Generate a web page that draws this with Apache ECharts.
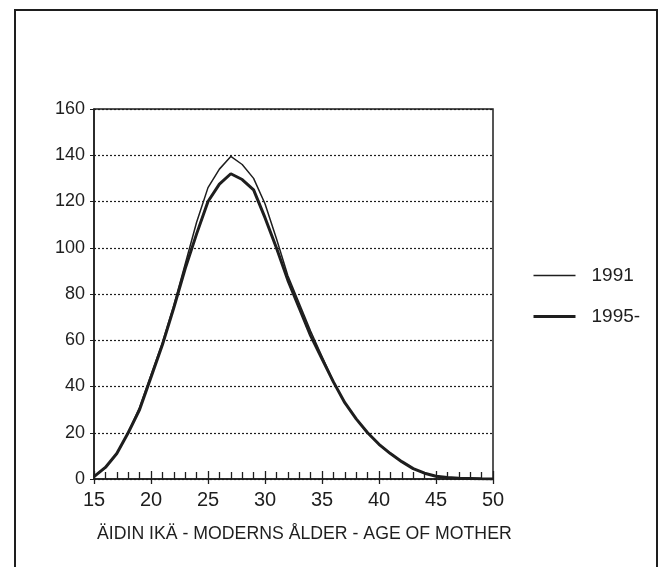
<!DOCTYPE html>
<html>
<head>
<meta charset="utf-8">
<script src="https://cdn.jsdelivr.net/npm/echarts@6/dist/echarts.min.js"></script>
<style>
html, body { margin: 0; padding: 0; background: #fff; }
#chart { width: 663px; height: 567px; }
</style>
</head>
<body>
<div id="chart"></div>
<script>
// ikä 15..50
var ages = [15,16,17,18,19,20,21,22,23,24,25,26,27,28,29,30,31,32,33,34,35,36,37,38,39,40,41,42,43,44,45,46,47,48,49,50];
var v1991 = [1,5,11,20,31,45,59,75,93,111,126,134,139.5,136,130,119,104,88,76,64,53,42,33,26,20,15,11,7.5,4.5,2.5,1.2,0.6,0.3,0.2,0.1,0.05];
var v1995 = [1,5,11,20,30,44,58,74,91,106,120,127.5,132,129.5,125,113,100,86,74,62,52,42,33,26,20,15,11,7.5,4.5,2.5,1.2,0.6,0.3,0.2,0.1,0.05];
var yTicks = [0,20,40,60,80,100,120,140,160];
var xTicks = [15,20,25,30,35,40,45,50];
var seriesNames = ["1991", "1995-"];
var axisTitle = "ÄIDIN IKÄ - MODERNS ÅLDER - AGE OF MOTHER";

function pairs(vals) {
  return ages.map(function (a, i) { return [a, vals[i]]; });
}

var ink = "#1e1e1e";
var lineWidths = [1.5, 3];
var chart = echarts.init(document.getElementById("chart"));

var option = {
  animation: false,
  backgroundColor: "#fff",
  textStyle: { fontFamily: "Liberation Sans, Arial, sans-serif" },
  graphic: [
    {
      type: "rect",
      shape: { x: 15, y: 10, width: 642, height: 600 },
      style: { fill: null, stroke: ink, lineWidth: 2 },
      z: 0
    },
    {
      type: "text",
      left: 97,
      top: 525,
      style: { text: axisTitle, fill: ink, font: "17.7px Liberation Sans, Arial, sans-serif" }
    }
  ],
  grid: {
    left: 94, right: 170, top: 109, bottom: 88,
    show: true, borderColor: ink, borderWidth: 1.5, backgroundColor: "transparent"
  },
  legend: {
    orient: "vertical",
    left: 527,
    top: 261,
    itemWidth: 42,
    itemHeight: 20,
    itemGap: 22,
    data: seriesNames.map(function (n, i) {
      return { name: n, lineStyle: { color: ink, width: lineWidths[i] } };
    }),
    itemStyle: { color: "rgba(0,0,0,0)", borderWidth: 0 },
    formatter: function (name) { return "{gap|}" + name; },
    textStyle: {
      color: ink, fontSize: 19,
      rich: { gap: { width: 11 } }
    }
  },
  xAxis: [
    {
      type: "value",
      min: 15, max: 50, interval: 5,
      axisLine: { show: true, lineStyle: { color: ink, width: 1.5 } },
      axisTick: { show: true, inside: true, length: 8, lineStyle: { color: ink, width: 1.3 } },
      minorTick: { show: true, splitNumber: 5, length: 7, lineStyle: { color: ink, width: 1.3 } },
      axisLabel: {
        color: ink, fontSize: 20, margin: 11,
        formatter: function (v) { return xTicks.indexOf(v) >= 0 ? String(v) : ""; }
      },
      splitLine: { show: false }
    },
    {
      type: "value",
      position: "bottom",
      gridIndex: 0,
      min: 15, max: 50, interval: 5,
      axisLine: { show: false },
      axisTick: { show: true, inside: false, length: 5, lineStyle: { color: ink, width: 1.3 } },
      axisLabel: { show: false },
      splitLine: { show: false }
    }
  ],
  yAxis: {
    type: "value",
    min: 0, max: 160, interval: 20,
    axisLine: { show: true, lineStyle: { color: ink, width: 1.5 } },
    axisTick: { show: true, length: 4, lineStyle: { color: ink } },
    axisLabel: {
      color: ink, fontSize: 18, margin: 9,
      formatter: function (v) { return yTicks.indexOf(v) >= 0 ? String(v) : ""; }
    },
    splitLine: { show: true, lineStyle: { color: ink, width: 1.2, type: [2, 2] } }
  },
  series: [
    {
      name: seriesNames[0],
      type: "line",
      data: pairs(v1991),
      symbol: "none",
      smooth: false,
      lineStyle: { color: ink, width: lineWidths[0] },
      itemStyle: { color: ink },
      z: 3
    },
    {
      name: seriesNames[1],
      type: "line",
      data: pairs(v1995),
      symbol: "none",
      smooth: false,
      lineStyle: { color: ink, width: lineWidths[1] },
      itemStyle: { color: ink },
      z: 4
    }
  ]
};

chart.setOption(option);
</script>
</body>
</html>
